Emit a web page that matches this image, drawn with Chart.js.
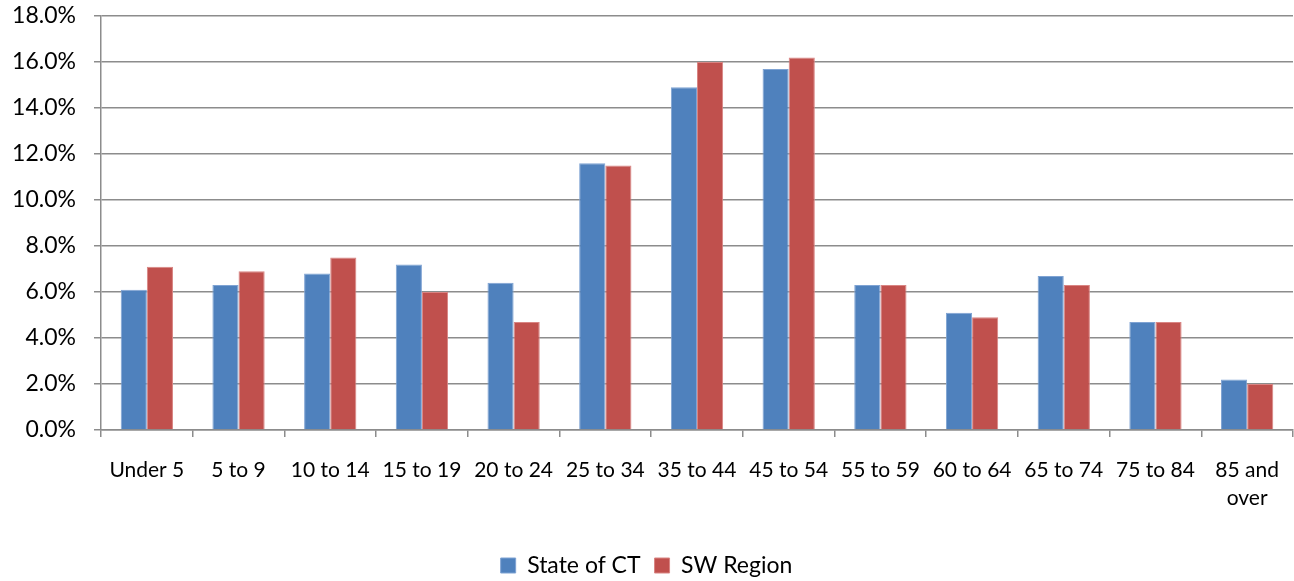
<!DOCTYPE html>
<html>
<head>
<meta charset="utf-8">
<script src="https://cdn.jsdelivr.net/npm/chart.js@4"></script>
<style>
  html, body { margin: 0; padding: 0; background: #fff; }
  #wrap { width: 1294px; height: 581px; }
</style>
</head>
<body>
<div id="wrap"><canvas id="chart"></canvas></div>
<script>
const ageGroups = ['Under 5', '5 to 9', '10 to 14', '15 to 19', '20 to 24', '25 to 34', '35 to 44',
  '45 to 54', '55 to 59', '60 to 64', '65 to 74', '75 to 84', ['85 and', 'over']];
const stateCT = [6.1, 6.3, 6.8, 7.2, 6.4, 11.6, 14.9, 15.7, 6.3, 5.1, 6.7, 4.7, 2.2];
const swRegion = [7.1, 6.9, 7.5, 6.0, 4.7, 11.5, 16.0, 16.2, 6.3, 4.9, 6.3, 4.7, 2.0];

const font = "Lato, 'Liberation Sans', sans-serif";
const gridGray = '#8c8c8c';

// nudge the legend a little lower, like the excel original
const legendNudge = {
  id: 'legendNudge',
  beforeDraw: (chart) => {
    if (!chart.legend._nudged) {
      chart.legend.top += 6;
      chart.legend.bottom += 6;
      chart.legend._nudged = true;
    }
  }
};

const ctx = document.getElementById('chart');
new Chart(ctx, {
  type: 'bar',
  data: {
    labels: ageGroups,
    datasets: [
      { label: 'State of CT', data: stateCT, backgroundColor: '#4f81bd', borderColor: '#7fa3d3', borderWidth: 1 },
      { label: 'SW Region', data: swRegion, backgroundColor: '#c0504d', borderColor: '#d98583', borderWidth: 1 }
    ]
  },
  options: {
    responsive: true,
    maintainAspectRatio: false,
    animation: false,
    datasets: { bar: { categoryPercentage: 0.57, barPercentage: 1.0 } },
    layout: { padding: { top: 16, right: 1, left: 0, bottom: 0 } },
    plugins: {
      legend: {
        position: 'bottom',
        labels: {
          boxWidth: 15, boxHeight: 15, padding: 14,
          color: '#000', font: { family: font, size: 23 }
        }
      },
      tooltip: { enabled: false }
    },
    scales: {
      x: {
        grid: { drawOnChartArea: false, drawTicks: true, tickLength: 7, color: gridGray, lineWidth: 1.5 },
        border: { color: gridGray, width: 1.5 },
        ticks: { color: '#000', font: { family: font, size: 21, lineHeight: 1.3 }, padding: 20, maxRotation: 0, autoSkip: false },
        afterFit: s => { s.height = 104; s.paddingLeft = 0; s.paddingRight = 0; }
      },
      y: {
        min: 0, max: 18,
        grid: { color: gridGray, lineWidth: 1.5, tickLength: 7 },
        border: { color: gridGray, width: 1.5 },
        ticks: {
          stepSize: 2, color: '#000', font: { family: font, size: 23 }, padding: 18,
          callback: v => v.toFixed(1) + '%'
        },
        afterFit: s => { s.width = 101; s.paddingTop = 0; s.paddingBottom = 0; }
      }
    }
  },
  plugins: [legendNudge]
});
</script>
</body>
</html>
